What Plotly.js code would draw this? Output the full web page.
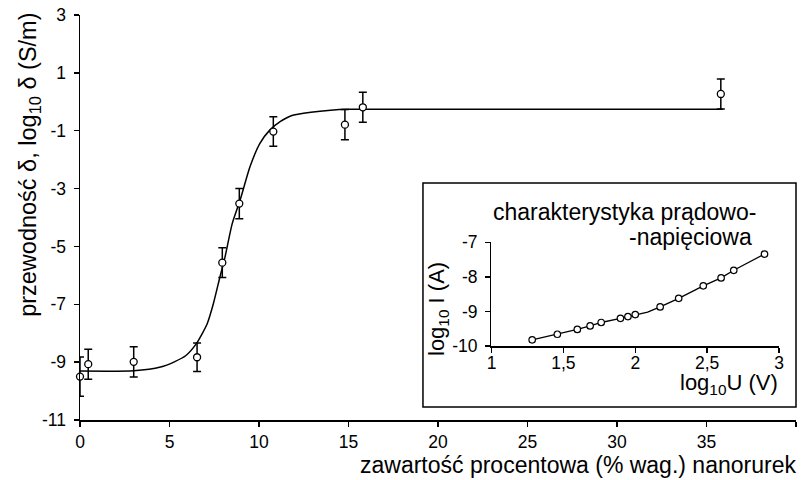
<!DOCTYPE html>
<html>
<head>
<meta charset="utf-8">
<script src="https://cdn.plot.ly/plotly-3.0.1.min.js"></script>
<style>html,body{margin:0;padding:0;background:#fff;}#chart{width:801px;height:480px;}</style>
</head>
<body>
<div id="chart"></div>
<script>
// ---- main chart: conductivity vs nanotube content ----
const contentPct = [0, 0.46, 3.0, 6.54, 7.95, 8.9, 10.8, 14.8, 15.8, 35.8];
const logConductivity = [-9.5, -9.07, -8.99, -8.83, -5.56, -3.52, -1.03, -0.79, -0.19, 0.27];
const conductivityErr = [0.68, 0.52, 0.52, 0.49, 0.51, 0.52, 0.51, 0.52, 0.52, 0.52];

// fitted sigmoid curve
const fitX = [0, 3, 4.5, 5.3, 5.9, 6.5, 7.1, 7.45, 7.8, 8.1, 8.5, 8.95, 9.5, 10.05, 10.6, 11.2, 11.8, 12.9, 14.0, 15.0, 20.0, 35.9];
const fitY = [-9.31, -9.3, -9.17, -8.98, -8.78, -8.36, -7.68, -6.98, -6.1, -5.37, -4.22, -3.39, -2.24, -1.44, -0.98, -0.68, -0.48, -0.36, -0.29, -0.26, -0.26, -0.26];

const mainYTickVals = [-11, -9, -7, -5, -3, -1, 1, 3];
const mainYTickText = ['-11', '-9', '-7', '-5', '-3', '-1', '1', '3'];

// ---- inset: current-voltage characteristic ----
const logU = [1.283, 1.458, 1.597, 1.686, 1.763, 1.897, 1.949, 2.0, 2.173, 2.302, 2.473, 2.597, 2.685, 2.899];
const logI = [-9.82, -9.66, -9.52, -9.42, -9.32, -9.2, -9.15, -9.09, -8.87, -8.62, -8.26, -8.03, -7.81, -7.34];
const insetLineX = [1.283, 1.458, 1.597, 1.686, 1.763, 1.897, 1.949, 2.0, 2.086, 2.173, 2.302, 2.473, 2.597, 2.685, 2.899];
const insetLineY = [-9.82, -9.66, -9.52, -9.42, -9.32, -9.2, -9.15, -9.09, -9.02, -8.87, -8.62, -8.26, -8.03, -7.81, -7.34];

const insetXTickVals = [1, 1.5, 2, 2.5, 3];
const insetXTickText = ['1', '1,5', '2', '2,5', '3'];
const insetYTickVals = [-10, -9, -8, -7];
const insetYTickText = ['-10', '-9', '-8', '-7'];

const FONT = 'Liberation Sans, Arial, Helvetica, sans-serif';

const traces = [
  {x: fitX, y: fitY, type: 'scatter', mode: 'lines',
   line: {color: '#000', width: 1.5, shape: 'spline', smoothing: 0.6},
   xaxis: 'x', yaxis: 'y', hoverinfo: 'skip'},
  {x: contentPct, y: logConductivity, type: 'scatter', mode: 'markers',
   marker: {symbol: 'circle', size: 7, color: '#fff', line: {color: '#000', width: 1.3}},
   error_y: {type: 'data', array: conductivityErr, visible: true, color: '#000', thickness: 1.5, width: 4},
   cliponaxis: false, xaxis: 'x', yaxis: 'y'},
  {x: insetLineX, y: insetLineY, type: 'scatter', mode: 'lines',
   line: {color: '#000', width: 1.3}, xaxis: 'x2', yaxis: 'y2', hoverinfo: 'skip'},
  {x: logU, y: logI, type: 'scatter', mode: 'markers',
   marker: {symbol: 'circle', size: 6.5, color: '#fff', line: {color: '#000', width: 1.2}},
   cliponaxis: false, xaxis: 'x2', yaxis: 'y2'}
];

const axisCommon = {
  showline: true, linecolor: '#000', linewidth: 1.5,
  ticks: 'outside', ticklen: 5, tickwidth: 1.5, tickcolor: '#000',
  showgrid: false, zeroline: false,
  tickfont: {family: FONT, size: 17.5, color: '#000'}
};

const layout = {
  width: 801, height: 480,
  margin: {l: 80, r: 5, t: 15, b: 60},
  paper_bgcolor: '#fff', plot_bgcolor: 'rgba(0,0,0,0)',
  showlegend: false,
  font: {family: FONT, color: '#000'},
  xaxis: Object.assign({}, axisCommon, {range: [0, 40], tickmode: 'linear', tick0: 0, dtick: 5, domain: [0, 1], anchor: 'y'}),
  yaxis: Object.assign({}, axisCommon, {range: [-11, 3], tickmode: 'array', tickvals: mainYTickVals, ticktext: mainYTickText, domain: [0, 1], anchor: 'x', ticklabelstandoff: 4}),
  xaxis2: Object.assign({}, axisCommon, {range: [1, 3], tickmode: 'array', tickvals: insetXTickVals, ticktext: insetXTickText, domain: [0.5747, 0.9763], anchor: 'y2', ticklabelstandoff: -5}),
  yaxis2: Object.assign({}, axisCommon, {range: [-10, -7], tickmode: 'array', tickvals: insetYTickVals, ticktext: insetYTickText, domain: [0.1827, 0.4388], anchor: 'x2', ticklabelstandoff: 4}),
  shapes: [
    {type: 'rect', xref: 'paper', yref: 'paper', x0: 0.479, x1: 1.0, y0: 0.0321, y1: 0.585,
     line: {color: '#000', width: 1.5}, fillcolor: '#fff', layer: 'below'}
  ],
  annotations: [
    {text: 'zawartość procentowa (% wag.) nanorurek', xref: 'paper', yref: 'paper', x: 1.003, y: -0.11,
     xanchor: 'right', yanchor: 'middle', showarrow: false, font: {family: FONT, size: 23, color: '#000'}},
    {text: 'przewodność δ, log<sub>10</sub> δ (S/m)', xref: 'paper', yref: 'paper', x: -0.0698, y: 0.63,
     xanchor: 'center', yanchor: 'middle', textangle: -90, showarrow: false, font: {family: FONT, size: 23.5, color: '#000'}},
    {text: 'charakterystyka prądowo-', xref: 'paper', yref: 'paper', x: (624 - 80) / 716, y: (420 - 212) / 405,
     xanchor: 'center', yanchor: 'middle', showarrow: false, font: {family: FONT, size: 23, color: '#000'}},
    {text: '-napięciowa', xref: 'paper', yref: 'paper', x: (754 - 80) / 716, y: (420 - 237) / 405,
     xanchor: 'right', yanchor: 'middle', showarrow: false, font: {family: FONT, size: 23, color: '#000'}},
    {text: 'log<sub>10</sub> I (A)', xref: 'paper', yref: 'paper', x: (438 - 80) / 716, y: (420 - 309) / 405,
     xanchor: 'center', yanchor: 'middle', textangle: -90, showarrow: false, font: {family: FONT, size: 22, color: '#000'}},
    {text: 'log<sub>10</sub>U (V)', xref: 'paper', yref: 'paper', x: (780 - 80) / 716, y: (420 - 384) / 405,
     xanchor: 'right', yanchor: 'middle', showarrow: false, font: {family: FONT, size: 22, color: '#000'}}
  ]
};

Plotly.newPlot('chart', traces, layout, {displayModeBar: false, staticPlot: true});
</script>
</body>
</html>
